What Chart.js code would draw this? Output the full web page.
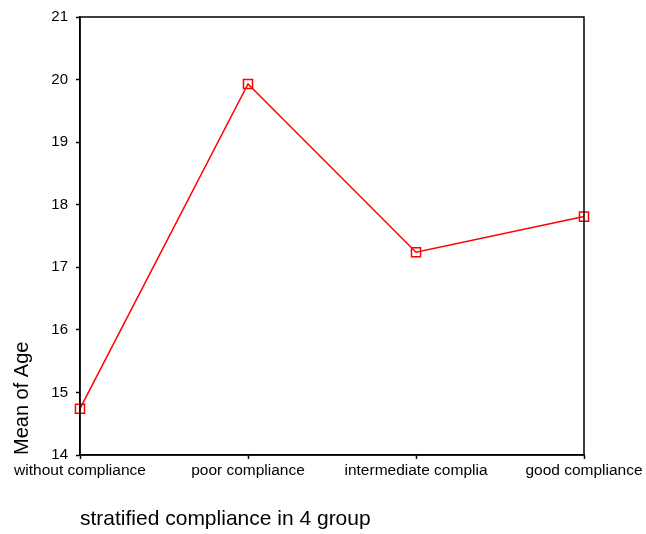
<!DOCTYPE html>
<html>
<head>
<meta charset="utf-8">
<script src="https://cdn.jsdelivr.net/npm/chart.js@4"></script>
<style>
  body { margin: 0; background: #fff; }
  canvas { display: block; }
</style>
</head>
<body>
<canvas id="meanChart" width="646" height="534"></canvas>
<script>
const groups = ['without compliance', 'poor compliance', 'intermediate complia', 'good compliance'];
const meanAge = [14.74, 19.93, 17.24, 17.81];
const yTicks = [14, 15, 16, 17, 18, 19, 20, 21];

// frame around the plot area (top + right lines)
const frame = {
    id: 'frame',
    afterDraw(chart) {
        const { ctx, chartArea: a } = chart;
        ctx.save();
        ctx.strokeStyle = '#000';
        ctx.lineWidth = 1.5;
        ctx.strokeRect(a.left, a.top, a.right - a.left, a.bottom - a.top);
        ctx.restore();
    }
};

const ctx = document.getElementById('meanChart').getContext('2d');
new Chart(ctx, {
    type: 'line',
    data: {
        labels: groups,
        datasets: [{
            label: 'Mean of Age',
            data: meanAge,
            borderColor: '#ff0000',
            borderWidth: 1.5,
            backgroundColor: 'transparent',
            pointStyle: 'rect',
            pointRadius: 6.4,
            pointBorderWidth: 1.5,
            pointBorderColor: '#ff0000',
            pointBackgroundColor: 'transparent',
            tension: 0
        }]
    },
    options: {
        responsive: false,
        animation: false,
        layout: { padding: { top: 15, right: 62, left: 0, bottom: 0 } },
        plugins: {
            legend: { display: false },
            tooltip: { enabled: false }
        },
        scales: {
            x: {
                offset: false,
                grid: { drawOnChartArea: false, color: '#000', tickLength: 4, tickWidth: 1.5 },
                border: { color: '#000', width: 1.5 },
                ticks: {
                    color: '#000', padding: 2, maxRotation: 0, autoSkip: false,
                    font: { family: 'Liberation Sans, Arial', size: 15.5 }
                },
                title: {
                    display: true, text: 'stratified compliance in 4 group', align: 'start',
                    color: '#000', font: { family: 'Liberation Sans, Arial', size: 21 },
                    padding: { top: 0, bottom: 2 }
                },
                afterFit(scale) { scale.height = 79; }
            },
            y: {
                min: 14,
                max: 21,
                afterBuildTicks(scale) { scale.ticks = yTicks.map(v => ({ value: v })); },
                grid: { drawOnChartArea: false, color: '#000', tickLength: 4, tickWidth: 1.5 },
                border: { color: '#000', width: 1.5 },
                ticks: {
                    color: '#000', padding: 8,
                    font: { family: 'Liberation Sans, Arial', size: 15 }
                },
                title: {
                    display: true, text: 'Mean of Age', align: 'start',
                    color: '#000', font: { family: 'Liberation Sans, Arial', size: 20 },
                    padding: { top: 10, bottom: 0 }
                },
                afterFit(scale) { scale.width = 80; }
            }
        }
    },
    plugins: [frame]
});
</script>
</body>
</html>
